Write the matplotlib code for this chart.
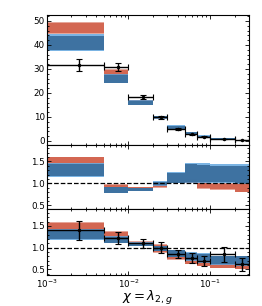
import numpy as np
import matplotlib
matplotlib.use("Agg")
import matplotlib.pyplot as plt

# ---- bins and data ----
edges = [1e-3, 5e-3, 1e-2, 2e-2, 3e-2, 5e-2, 7e-2, 1e-1, 2e-1, 3e-1]
xpts = [2.5e-3, 7.5e-3, 1.5e-2, 2.5e-2, 4e-2, 6e-2, 8.5e-2, 1.5e-1, 2.5e-1]

data = [31.5, 30.8, 18.3, 9.8, 5.0, 2.7, 1.7, 0.8, 0.4]
data_err = [2.5, 1.5, 0.8, 0.5, 0.4, 0.3, 0.2, 0.1, 0.1]

# top panel bands (lo, hi)
red_lo = [44.5, 27.0, 15.8, 9.0, 5.0, 2.8, 1.6, 0.7, 0.35]
red_hi = [49.5, 30.0, 17.0, 10.0, 5.2, 3.0, 1.8, 0.8, 0.4]
blue_lo = [37.5, 24.0, 15.0, 9.3, 4.8, 2.5, 1.5, 0.6, 0.3]
blue_hi = [44.5, 28.0, 17.0, 10.3, 6.5, 3.8, 2.3, 1.1, 0.6]

# middle panel: prediction / data
rm_red_lo = [1.45, 0.90, 0.85, 0.90, 1.00, 1.00, 0.88, 0.86, 0.80]
rm_red_hi = [1.60, 0.98, 0.92, 1.00, 1.03, 1.09, 1.03, 1.00, 1.00]
rm_blue_lo = [1.14, 0.78, 0.82, 0.95, 1.00, 1.00, 1.00, 1.00, 0.98]
rm_blue_hi = [1.47, 0.93, 0.90, 1.05, 1.25, 1.47, 1.46, 1.43, 1.43]

# bottom panel
rb_data = [1.40, 1.22, 1.10, 1.00, 0.85, 0.76, 0.70, 0.85, 0.62]
rb_err = [0.22, 0.13, 0.10, 0.12, 0.09, 0.11, 0.12, 0.17, 0.15]
rb_red_lo = [1.20, 1.15, 1.05, 0.88, 0.72, 0.62, 0.57, 0.53, 0.50]
rb_red_hi = [1.60, 1.38, 1.15, 1.08, 0.85, 0.78, 0.72, 0.65, 0.62]
rb_blue_lo = [1.18, 1.10, 1.03, 0.92, 0.78, 0.70, 0.65, 0.60, 0.58]
rb_blue_hi = [1.42, 1.27, 1.12, 1.05, 0.95, 0.90, 0.87, 0.82, 0.82]

RED = "#d1604a"
BLUE = "#3b6f9e"
LBLUE = "#5aa2dc"


def step(v):
    return list(v) + [v[-1]]


def band(ax, lo, hi, color, light=None):
    lo = np.array(lo)
    hi = np.array(hi)
    w = 0.08 * (hi - lo)
    if light is not None:
        ax.fill_between(edges, step(lo), step(hi), step="post", color=light,
                        alpha=0.8, lw=0)
        ax.fill_between(edges, step(lo + w), step(hi - w), step="post",
                        color=color, alpha=0.95, lw=0)
    else:
        ax.fill_between(edges, step(lo), step(hi), step="post", color=color,
                        alpha=0.55, lw=0)
        ax.fill_between(edges, step(lo + w), step(hi - w), step="post",
                        color=color, alpha=0.9, lw=0)


fig = plt.figure(figsize=(2.62, 3.06), dpi=100)
ax1 = fig.add_axes([0.179, 0.526, 0.771, 0.425])
ax2 = fig.add_axes([0.179, 0.317, 0.771, 0.209], sharex=ax1)
ax3 = fig.add_axes([0.179, 0.101, 0.771, 0.216], sharex=ax1)

xerr_lo = [x - e for x, e in zip(xpts, edges[:-1])]
xerr_hi = [e - x for x, e in zip(xpts, edges[1:])]

# top
band(ax1, red_lo, red_hi, RED)
band(ax1, blue_lo, blue_hi, BLUE, LBLUE)
ax1.errorbar(xpts, data, yerr=data_err, xerr=[xerr_lo, xerr_hi], fmt="o",
             ms=1.5, color="k", lw=1, capsize=2, capthick=0.8)
ax1.set_ylim(-1.7, 52.5)
ax1.set_yticks([0, 10, 20, 30, 40, 50])

# middle
band(ax2, rm_red_lo, rm_red_hi, RED)
band(ax2, rm_blue_lo, rm_blue_hi, BLUE, LBLUE)
ax2.axhline(1.0, color="k", ls="--", lw=0.9)
ax2.set_ylim(0.42, 1.87)

# bottom
band(ax3, rb_red_lo, rb_red_hi, RED)
band(ax3, rb_blue_lo, rb_blue_hi, BLUE, LBLUE)
ax3.axhline(1.0, color="k", ls="--", lw=0.9)
ax3.errorbar(xpts, rb_data, yerr=rb_err, xerr=[xerr_lo, xerr_hi], fmt="o",
             ms=1.5, color="k", lw=1, capsize=2, capthick=0.8)
ax3.set_ylim(0.37, 1.89)

for ax in (ax2, ax3):
    ax.set_yticks([0.5, 1.0, 1.5])
    ax.set_yticklabels(["0.5", "1.0", "1.5"])

ax1.set_xscale("log")
ax1.set_xlim(1e-3, 3e-1)
for ax in (ax1, ax2, ax3):
    ax.minorticks_on()
    ax.tick_params(which="both", direction="in", top=True, right=True,
                   labelsize=6.3, width=0.6, pad=1.5)
    ax.tick_params(which="major", length=3)
    ax.tick_params(which="minor", length=1.5)
    for s in ax.spines.values():
        s.set_linewidth(0.8)
for ax in (ax1, ax2):
    ax.tick_params(labelbottom=False)

fig.text(0.563, 0.057, r"$\chi = \lambda_{2,g}$", fontsize=9.5,
         ha="center", va="top")

fig.savefig("out.png", dpi=100)
